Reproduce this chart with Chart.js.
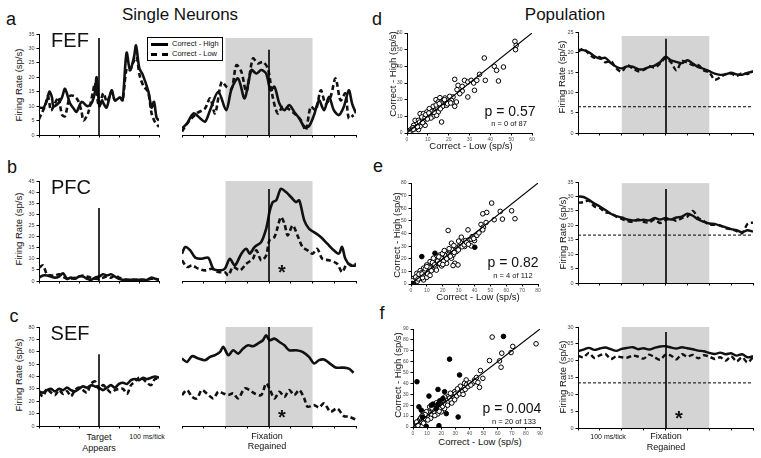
<!DOCTYPE html>
<html>
<head>
<meta charset="utf-8">
<script src="https://cdn.jsdelivr.net/npm/chart.js@4.4.1/dist/chart.umd.min.js"></script>
<style>
html, body { margin: 0; padding: 0; background: #fff; }
#fig { position: relative; width: 761px; height: 458px; overflow: hidden; font-family: 'Liberation Sans', Arial, sans-serif; color: #111; }
#fig canvas { position: absolute; }
.t { position: absolute; white-space: nowrap; transform: translate(-50%, -50%); line-height: 1; z-index: 5; }
.r { transform: translate(-50%, -50%) rotate(-90deg); }
#legend { position: absolute; left: 147px; top: 37px; width: 74px; height: 22px; border: 1px solid #000; background: #fff; z-index: 6; font-size: 7.5px; }
#legend div { position: absolute; left: 3px; height: 9px; line-height: 9px; }
#legend span { display: inline-block; width: 17px; vertical-align: middle; margin-right: 4px; }
</style>
</head>
<body>
<div id="fig">
  <div id="legend">
    <div style="top:1px"><span style="border-top:3px solid #000"></span>Correct - High</div>
    <div style="top:11px"><span style="border-top:3px dashed #000"></span>Correct - Low</div>
  </div>
</div>
<script>
// ---- single neurons, before target (ms, sp/s) ----
const step20 = [0,20,40,60,80,100,120,140,160,180,200,220,240,260,280,300,320,340,360,380,400,420,440,460,480,500,520,540,560,580,600];

const fefPreHighT = [0,22,40,52,65,72,97,115,130,155,175,188,213,242,263,280,288,302,315,322,338,363,380,405,418,438,455,475,485,502,518,547,563,575,588,600];
const fefPreHigh  = [9.5,9.5,12,15,13,10,11,13,16,11,9,8,11.5,10,11,15,20,10,12,11,9.5,15.5,12,13,12,28.5,22.5,27,31,23,21,15,9.5,11.5,6,5];
const fefPreLowT  = [0,10,30,45,60,80,97,115,130,155,175,195,213,222,245,270,280,300,322,340,363,380,405,418,438,455,470,488,502,522,545,563,580,600];
const fefPreLow   = [5.5,7,10,13.5,8.5,11,13,7,6.5,13.5,13.5,12,8,5,7.5,15,18,10,14.5,11.5,15,12,13,12,23,22.5,25,27,21,17,15,7.5,4.5,2.8];

const pfcPreHigh = [1.5,2.5,2.5,2,1.5,2,3.5,1,1.5,1,2,2,1,0.5,1.5,2,3,2.5,3,2,1,0.5,0.5,0.5,0.5,0.5,0.5,0.5,1.5,1,0.5];
const pfcPreLow  = [6,7,3,2.5,2.5,3,2,1,1,1.5,2,2.5,2,1.5,1,1,1.5,2,1.5,2.5,1.5,1,0.5,0.5,0.5,0.5,0.5,0.5,1,1,0.5];

const sefPreHigh = [28,27,29,30,28,30,29,31,29,28,30,32,31,33,32,31,29,31,33,31,34,35,34,37,38,37,39,38,39,40,39];
const sefPreLow  = [27,24,30,27,25,29,26,28,24,29,31,29,27,34,36,30,33,30,27,29,30,30,26,33,36,39,38,35,33,38,38];

// ---- single neurons, around fixation regained (ms, sp/s) ----
const fefPostHighT = [0,23,53,83,106,129,167,203,228,258,288,319,342,364,387,407,425,448,471,493,516,539,562,584,607,630,653,676,698,721,744,767,782,800];
const fefPostHigh  = [2.3,4,7.5,5.8,4.6,8.6,15,8.6,16,19.6,12.7,22.5,21.3,22.5,21.3,15.5,16.7,10.9,8.6,10.4,8,5.8,2.9,3.1,6.9,12,8.6,13.2,8.6,6.9,9.8,15.5,10.9,7.5];
const fefPostLowT  = [0,30,68,106,129,152,182,205,228,250,273,296,326,349,372,395,417,440,463,486,516,546,569,592,615,638,660,683,706,729,751,767,789];
const fefPostLow   = [1.2,4.6,7.5,9.2,12.7,7.5,18.4,16.7,16,24.2,21.9,15,26.5,24.8,25.3,23,13.2,7.5,9.8,9.2,7.5,5.2,1.7,9.8,8.6,15.5,10.9,13.2,19.6,12,14.4,5.8,6.9];

const pfcPostHighT = [0,15,38,61,91,121,144,175,197,220,243,273,296,311,334,364,387,398,402,417,433,455,478,501,524,539,562,584,607,638,668,698,721,736,751,774,800];
const pfcPostHigh  = [12.3,15.3,13.8,10.5,10,10.5,5.5,4.8,5.5,10,7,12.3,14.5,12.3,15.3,17.5,23.5,28.8,31,35.5,36.3,41.5,40,37.8,35.5,36.3,27.3,23.5,22,19.8,16.8,13.8,12.3,15.3,10,7,7];
const pfcPostLowT  = [0,23,46,76,106,137,167,197,213,235,266,296,326,342,364,387,402,425,440,455,471,486,509,531,554,577,600,622,645,676,713,736,759,782,800];
const pfcPostLow   = [9.3,6.3,7,5.5,4.8,5.5,4,4,2.5,6.3,4.8,7.8,10,13.8,9.3,11.5,18.3,19.8,24.3,28.8,25.8,20.5,25,20.5,15.3,13.8,12.3,14.5,10,9.3,7.8,4,7.8,7,7.8];

const sefPostHighT = [0,23,46,76,106,129,152,175,190,213,235,258,281,304,326,349,372,387,402,425,448,471,493,524,554,584,607,630,653,676,706,736,767,789];
const sefPostHigh  = [54.5,51.8,56.4,54.5,53.2,55.8,57.2,59.9,63.9,57.2,61.2,58.5,62.6,65.2,64.4,66.6,69.3,73.3,69.3,70.6,67.9,65.2,61.2,61.2,59.9,55.8,50.5,53.2,53.7,51,47.2,47.2,46.4,43];
const sefPostLowT  = [0,23,46,68,91,114,144,167,190,213,235,258,288,311,334,364,387,402,425,448,471,493,516,539,562,577,607,630,653,683,713,744,767,797];
const sefPostLow   = [25,29,23.6,22.3,29,26.3,22.3,27.7,26.3,25,26.3,22.3,30.3,29,26.3,25,34.4,30.3,22.3,27.7,23.6,29,25,29,22.3,15.6,16.9,15,18.3,11.5,14.2,8,7.5,5.4];

// ---- population averages (ms, sp/s) ----
const popT = [0,25,50,75,100,125,150,175,200,225,250,275,300,325,350,375,400,425,450,475,500,525,550,575,600,625,650,675,700,725,750,775,800];
const fefPopHigh = [20.6,20.5,20,19,18.4,18.6,17.3,16.4,16,16.5,16.4,15.8,15.8,16.3,16.7,17.5,18.9,18,17.6,17.3,18,17.2,16.3,15.9,15.3,14.7,14.4,14.5,14.9,14.5,14.4,14.9,15.2];
const fefPopLow  = [20.2,20.8,19.6,18.6,18.8,17.5,17.8,16,15.2,16.8,16,15.3,15.6,16.5,16.2,17.2,18.5,17.5,15.5,17.8,17.4,16.8,16.8,15.5,15,13.2,13.8,14.6,14.7,14.1,14.8,14.6,15.3];
const pfcPopHigh = [30,29.8,28.8,27.5,26.5,25.3,24,23.2,22.7,22,21.7,21.7,21.9,21.7,22.5,22,22.5,22,22.7,23,24,23.3,22,21.2,20.6,20.5,19.8,19.3,18.7,18.3,17.6,18.3,17.8];
const pfcPopLow  = [27.8,28,28.5,26.5,26,24.5,24.2,23,22.2,21.5,21.2,22,21.2,21,22,20.8,21.8,22.3,21.5,22.5,23,25,22.5,21.5,20.2,20.2,20,19,18.6,18,17.2,20.5,21];
const sefPopHigh = [22.8,23.3,23.8,23.2,23.6,23.9,23.4,22.9,23.5,23.8,24,23.4,23.7,23.3,23.8,24.2,24.3,23.9,23.6,24,23.7,23.4,23,22.8,22.3,22,22.4,21.9,22.2,21.5,21.9,21,21.3];
const sefPopLow  = [21.5,21,22.3,20.8,21.6,22,20.5,21.3,21,20.9,21.5,21.2,20.6,21.8,21,20.3,21.8,21.5,20.4,21.9,21.2,21.7,20.7,21.6,21.2,20.5,21,20,21.3,19.8,21,19.5,21];
const baseline = [6.5, 16.6, 13.4];

// ---- scatter: Correct-Low (x) vs Correct-High (y), sp/s ----
const dLow  = [51.8,52.4,52.1,37.1,41.9,43,46.3,43.9,34.8,37.6,22.9,27.6,29.2,30.8,32,33.5,24.5,26.5,26.5,32.4,25.3,29.2,22.1,21.3,20.5,23.7,22.9,13.9,15.8,18.2,17.1,19,15,16.6,12.6,13.4,14.5,10.7,9.5,11.8,15,16.6,6.3,7.9,7.1,8.7,10.3,12.6,14.2,3.9,5.5,4.7,7.1,8.7,3.2,2.4,3.9,1.3,1.6,0.8,5.5,6.3,2.8,
               2,4.5,6,8,9,11,12,13,14,16,17.5,19.5,20.5,21,11.5,9.8,5,3,1,18,24,15.5,10.5,7.5];
const dHigh = [55,52.6,50,45,40,37.6,39.6,31.2,35.2,31.6,32.2,31.6,30.6,31.6,30,31.6,28.6,28,25.2,25.6,23.6,21.6,21.6,19.6,18.6,18.6,16,20,21.2,21,16,16.6,18.6,18.6,16,13.6,15.2,14.6,12.6,11.6,12.6,6.6,11.6,11.6,9.6,9.2,9.6,10,10.6,7.6,7.6,5.2,5.2,4.6,4.6,2.6,2.6,1.6,0.6,0.6,2,4,3.2,
               1.2,3.5,6.5,6.8,11,10.2,13,12.4,16.8,14.5,19.8,17.5,22,18,9,8.4,3.8,2.2,0.3,20,26,17.6,12,6.2];

const eLow  = [50.8,47.7,45.2,56.2,63.4,44.1,47.3,45.6,45.2,52.4,57.6,65.5,23.4,35.9,25.5,31.7,34.4,36.5,37.9,40,37.9,30.7,32.7,33.8,28.6,26.5,24.4,22.4,18.2,20.3,23.4,25.5,27.6,29.6,26.5,14.1,17.2,21.3,22.4,12,16.2,15.1,19.3,9.9,13.1,7.9,5.8,11,3.7,6.8,8.9,4.8,1.7,3.3,1.2,2.1,5.8,7.9,9.9,
               2.5,4,6,7.2,8.5,10.5,11.5,12.8,14,15.5,16.8,18,19,20.5,21.8,22.5,23.8,24.8,26,27.2,28.5,29.8,31,32.2,33.5,35,36.2,38.5,39.5,41.5,42.8,0.8,3,5,9,10,13.5,17.5,19.8,21,24,27,30,12,16,20,4.5,7,14.8];
const eHigh = [64.1,56.7,55.6,57.5,58,47.2,48.7,45,42.9,50.9,51.4,51.7,42.4,42.9,32.3,37.1,34.4,35,35.5,34.4,30.2,30.2,31.8,29.7,25.7,23,25.7,24.4,23,20.4,21.7,20.4,16.4,15.1,14.6,20.4,19.1,18.5,16.4,17.7,15.9,12.5,14.3,15.1,14.3,12.5,10.6,11.1,8.5,9,7.2,5.8,4.5,3.2,1.1,1.9,4.5,3.2,5.3,
               3,2.2,6.5,5,9.8,8,13,10.5,16,14,18.2,16.5,20.5,18,22.5,20,23.5,22,27,25,28.5,27,33,29.5,31,33,31.5,37.5,36,38.5,40.5,2.5,5.5,7.8,12,13.8,17,21.5,24,26.5,28,30.5,34,6.8,11,15.5,4,8,15.2];
const eSigLow  = [6.8,15.1,40.2,0.6];
const eSigHigh = [21.7,24.4,29.1,0.5];

const fLow  = [56.1,87.2,70.7,69.5,62.9,62.4,61.3,54.2,47.8,49.5,47.1,43.6,42.4,37.7,38.9,35.3,36.5,34.2,31.8,29.5,27.1,30.6,24.7,28.3,23.6,21.2,25.9,18.9,15.3,16.5,11.8,14.1,9.4,10.6,7.1,4.7,3.5,1.9,0.9,2.8,5.9,8.2,11.8,22.4,20,16.5,
               1.5,2.2,3,4,5,6,7,8,9,10,11,12,13,14,15,16,17,18,19,20,21,22,23,24,25,26,27,28,29,30,31,32,33,34,35,36,37,38,39,40,41,44,45,46,
               5.5,9.5,13.5,17.5,21.5,26.5,29.5,33.5,12.5,7.5,19.5,24.5,31.5,15.5,2.5,8.5,10.5,22.5,27.5,35.5,18.5,3.5,6.5];
const fHigh = [82.6,76.4,74,68.4,67.8,54.9,60.7,61,51.8,44.7,36.4,43.2,40.1,43.2,37.6,37,40.1,33.9,33.9,32.4,29.3,29.3,27.7,26.2,24.7,21.6,23.1,20,18.5,13.9,14.8,12.3,12.3,9.2,7.7,6.8,4.6,2.5,1.2,3.1,4.6,6.2,18.5,17,13.9,22.2,
               1,0.5,2,3.5,6,5.2,9.5,8,7.5,11,10,13,11.5,15.5,14,17,15.5,18.5,17,20.5,19,23,21,25.5,22.5,26.5,24.5,29.5,27.5,30.5,28.5,32.5,30.5,35,33,36,34.5,39,37,40.5,38.5,42,45.5,41,
               8.5,14,17.5,12,25,31,25,37.5,8,3.5,23.5,20,35,10.5,4.5,11.5,6.5,27.5,22,30,14.5,1.5,10.5];
const fSigLow  = [64.1,25.9,33,2.8,11.3,17.7,22.4,21.2,18.9,17.7,4.2,5.9,6.6,14.1,23.6,18.4,32,9.4,13,16.5];
const fSigHigh = [83.2,62.3,47.8,41.6,28.4,34.5,32.4,26.2,24,21,18.5,15.4,9.2,21,12.3,1.2,9.2,0.6,20,17];

const dRange = [0, 60];
const eRange = [0, 80];
const fRange = [0, 90];

// ---------------------------------------------------------------
const FONT = "'Liberation Sans', Arial, sans-serif";
Chart.defaults.font.family = FONT;
Chart.defaults.color = '#333';
const fig = document.getElementById('fig');

function pts(xs, ys) { return xs.map((x, i) => ({ x: x, y: ys[i] })); }

function text(str, x, y, size, cls, extra) {
  const d = document.createElement('div');
  d.className = 't' + (cls ? ' ' + cls : '');
  d.style.left = x + 'px';
  d.style.top = y + 'px';
  d.style.fontSize = size + 'px';
  if (extra) d.style.cssText += extra;
  d.textContent = str;
  fig.appendChild(d);
}

const marksPlugin = {
  id: 'marks',
  beforeDraw(chart, args, o) {
    if (!o.shade) return;
    const { ctx, scales: { x, y } } = chart;
    const x0 = x.getPixelForValue(o.shade[0]), x1 = x.getPixelForValue(o.shade[1]);
    const yt = y.getPixelForValue(o.shade[2]), yb = y.getPixelForValue(0);
    ctx.save();
    ctx.fillStyle = '#d4d4d4';
    ctx.fillRect(x0, yt, x1 - x0, yb - yt);
    ctx.restore();
  },
  afterDatasetsDraw(chart, args, o) {
    if (!o.event) return;
    const { ctx, scales: { x, y } } = chart;
    const xe = Math.round(x.getPixelForValue(o.event[0]));
    ctx.save();
    ctx.strokeStyle = '#000';
    ctx.lineWidth = 1.6;
    ctx.beginPath();
    ctx.moveTo(xe, y.getPixelForValue(o.event[1]));
    ctx.lineTo(xe, y.getPixelForValue(0));
    ctx.stroke();
    ctx.restore();
  }
};

function xAxis(max, step, labels, size) {
  return {
    type: 'linear', min: 0, max: max,
    border: { display: true, color: '#000', width: 1 },
    grid: { drawOnChartArea: false, drawTicks: true, tickLength: 2.5, color: '#000' },
    ticks: { stepSize: step, display: labels, font: { size: size || 5 }, color: '#555', padding: 1, maxRotation: 0 }
  };
}
function yAxis(max, step, show, size) {
  return {
    type: 'linear', min: 0, max: max, display: show,
    border: { display: true, color: '#000', width: 1 },
    grid: { drawOnChartArea: false, drawTicks: true, tickLength: 2.5, color: '#000' },
    ticks: { stepSize: step, font: { size: size || 5.5 }, color: '#444', padding: 2 }
  };
}

function panel(area, pad, datasets, xs, ys, marks) {
  const cv = document.createElement('canvas');
  const w = area.w + pad.l + pad.r, h = area.h + pad.t + pad.b;
  cv.width = w; cv.height = h;
  cv.style.left = (area.x - pad.l) + 'px';
  cv.style.top = (area.y - pad.t) + 'px';
  cv.style.width = w + 'px';
  cv.style.height = h + 'px';
  fig.appendChild(cv);
  xs.afterFit = s => { s.height = pad.b; s.paddingLeft = 0; s.paddingRight = 0; };
  ys.afterFit = s => { s.width = pad.l; s.paddingTop = 0; s.paddingBottom = 0; };
  return new Chart(cv, {
    type: 'scatter',
    data: { datasets: datasets },
    options: {
      responsive: false, animation: false, events: [],
      layout: { padding: { top: pad.t, right: pad.r, bottom: 0, left: ys.display === false ? pad.l : 0 } },
      plugins: { legend: { display: false }, tooltip: { enabled: false }, marks: marks || {} },
      scales: { x: xs, y: ys }
    },
    plugins: [marksPlugin]
  });
}

function trace(data, dashed, width) {
  return {
    data: data, showLine: true, pointRadius: 0, borderColor: '#111',
    borderWidth: width || 2.6, borderDash: dashed ? [5, 3] : [], tension: 0.3
  };
}
function flat(val) {
  return { data: pts([0, 800], [val, val]), showLine: true, pointRadius: 0, borderColor: '#000', borderWidth: 1, borderDash: [3, 2] };
}
function dots(xs, ys, filled) {
  return {
    data: pts(xs, ys), pointRadius: 2.3, pointBorderWidth: 1, pointBorderColor: '#000',
    pointBackgroundColor: filled ? '#000' : '#fff'
  };
}
function unity(range) {
  return { data: pts(range, range), showLine: true, pointRadius: 0, borderColor: '#000', borderWidth: 1.1 };
}

// rows: plot top / bottom in page px
const rows = [
  { top: 34, bot: 135, max: 35 },
  { top: 181, bot: 281, max: 45 },
  { top: 327, bot: 426, max: 80 }
];
const padL = { l: 14, r: 2, t: 6, b: 4 };
const padN = { l: 2, r: 2, t: 6, b: 4 };

// column 1: before target appears
const pre = [
  [pts(fefPreHighT, fefPreHigh), pts(fefPreLowT, fefPreLow), 33.6],
  [pts(step20, pfcPreHigh), pts(step20, pfcPreLow), 32.8],
  [pts(step20, sefPreHigh), pts(step20, sefPreLow), 58]
];
// column 2: around fixation regained
const post = [
  [pts(fefPostHighT, fefPostHigh), pts(fefPostLowT, fefPostLow), 29.5, 33.6],
  [pts(pfcPostHighT, pfcPostHigh), pts(pfcPostLowT, pfcPostLow), 41.4, 45],
  [pts(sefPostHighT, sefPostHigh), pts(sefPostLowT, sefPostLow), 80, 80]
];
rows.forEach((r, i) => {
  const h = r.bot - r.top;
  panel({ x: 39, y: r.top, w: 120, h: h }, padL,
    [trace(pre[i][0], false), trace(pre[i][1], true)],
    xAxis(600, 100, false), yAxis(r.max, 5 * (i === 2 ? 2 : 1), true),
    { event: [300, pre[i][2]] });
  panel({ x: 180, y: r.top, w: 176, h: h }, padN,
    [trace(post[i][0], false), trace(post[i][1], true)],
    xAxis(800, 100, false), yAxis(r.max, 5, false),
    { shade: [200, 600, post[i][3]], event: [400, post[i][2]] });
});

// column 3: scatter
panel({ x: 407, y: 33, w: 126, h: 100 }, { l: 10, r: 4, t: 5, b: 8 },
  [unity(dRange), dots(dLow, dHigh, false)],
  xAxis(60, 10, true), yAxis(60, 10, true, 5));
panel({ x: 411, y: 183, w: 128, h: 101 }, { l: 10, r: 4, t: 5, b: 8 },
  [unity(eRange), dots(eSigLow, eSigHigh, true), dots(eLow, eHigh, false)],
  xAxis(80, 10, true), yAxis(80, 10, true, 5));
panel({ x: 413, y: 329, w: 128, h: 98 }, { l: 10, r: 4, t: 5, b: 8 },
  [unity(fRange), dots(fSigLow, fSigHigh, true), dots(fLow, fHigh, false)],
  xAxis(90, 10, true), yAxis(90, 10, true, 5));

// column 4: population
const pop = [
  { top: 32, bot: 133, max: 25, hi: fefPopHigh, lo: fefPopLow, shade: 24, ev: 23.3 },
  { top: 182, bot: 283, max: 35, hi: pfcPopHigh, lo: pfcPopLow, shade: 34.6, ev: 32.6 },
  { top: 327, bot: 428, max: 30, hi: sefPopHigh, lo: sefPopLow, shade: 30, ev: 28.5 }
];
pop.forEach((p, i) => {
  panel({ x: 578, y: p.top, w: 175, h: p.bot - p.top }, padL,
    [flat(baseline[i]), trace(pts(popT, p.hi), false, 2.4), trace(pts(popT, p.lo), true, 2.4)],
    xAxis(800, 100, false), yAxis(p.max, 5, true),
    { shade: [200, 600, p.shade], event: [400, p.ev] });
});

// ---- text ----
text('Single Neurons', 180, 14, 17);
text('Population', 565, 14, 17);
text('a', 11, 19, 18); text('b', 12, 167, 18); text('c', 14, 316, 18);
text('d', 377, 19, 18); text('e', 378, 166, 18); text('f', 382, 313, 18);
text('FEF', 70, 40, 20); text('PFC', 71, 187, 20); text('SEF', 70, 333, 20);
[85, 229, 375].forEach(y => text('Firing Rate (sp/s)', 19, y, 9.5, 'r'));
[[562, 77], [563, 233], [563, 377]].forEach(p => text('Firing Rate (sp/s)', p[0], p[1], 9.5, 'r'));
[[393, 74], [397, 235], [398, 375]].forEach(p => text('Correct - High (sp/s)', p[0], p[1], 9.5, 'r'));
text('Correct - Low (sp/s)', 471, 146, 9.5);
text('Correct - Low (sp/s)', 478, 297, 9.5);
text('Correct - Low (sp/s)', 480, 442, 9.5);
text('p = 0.57', 510, 111, 14); text('n = 0 of 87', 509, 124, 7.5);
text('p = 0.82', 513, 262, 14); text('n = 4 of 112', 513, 276, 7.5);
text('p = 0.004', 512, 408, 14); text('n = 20 of 133', 514, 422, 7.5);
text('Target', 99, 437, 9); text('Appears', 99, 448, 9);
text('100 ms/tick', 147, 436, 7);
text('Fixation', 267, 436, 9); text('Regained', 267, 446, 9);
text('100 ms/tick', 608, 436, 7);
text('Fixation', 666, 436, 9); text('Regained', 666, 447, 9);
text('*', 282, 272, 20, '', 'font-weight:bold');
text('*', 282, 417, 20, '', 'font-weight:bold');
text('*', 679, 418, 20, '', 'font-weight:bold');
</script>
</body>
</html>
